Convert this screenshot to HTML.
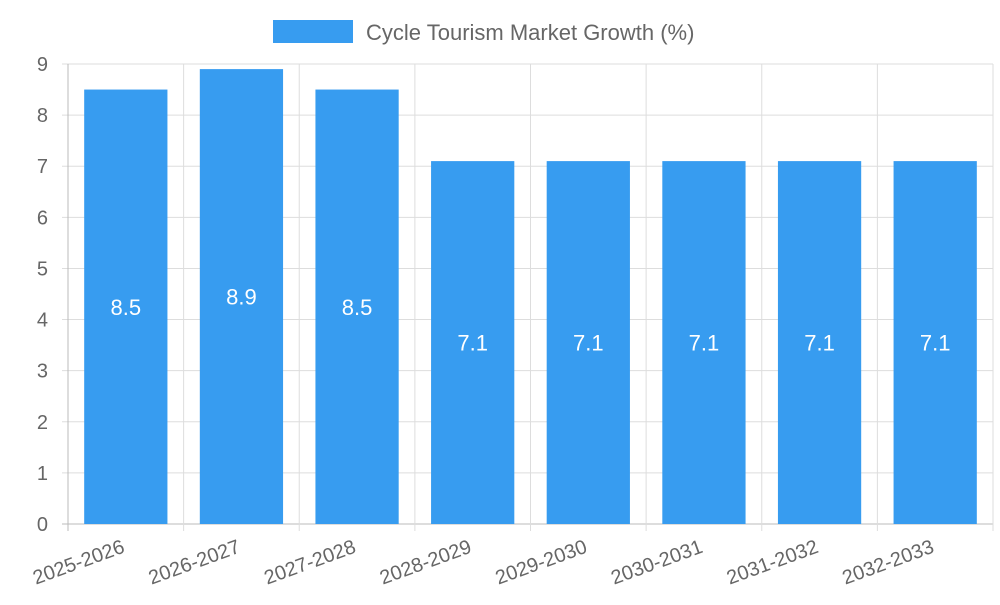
<!DOCTYPE html>
<html><head><meta charset="utf-8"><style>
body{margin:0;background:#fff;}
svg{font-family:"Liberation Sans",sans-serif;}
</style></head><body>
<svg width="1000" height="600">
<g id="legend">
<rect x="273" y="20" width="80" height="23" fill="#379cf0"></rect>
<text x="366" y="40" font-size="22" fill="#666">Cycle Tourism Market Growth (%)</text>
</g>
<g id="grid"></g><g id="bars"></g><g id="axes"></g>
</svg>
<script>
const categories=["2025-2026","2026-2027","2027-2028","2028-2029","2029-2030","2030-2031","2031-2032","2032-2033"];
const values=[8.5,8.9,8.5,7.1,7.1,7.1,7.1,7.1];
const yTicks=[0,1,2,3,4,5,6,7,8,9];
const NS="http://www.w3.org/2000/svg";
const L=68,R=993,T=64,B=524,yMax=9;
const band=(R-L)/categories.length;
const y=v=>B-(v/yMax)*(B-T);
const x=i=>L+i*band;
function mk(tag,attrs,parent){const e=document.createElementNS(NS,tag);for(const k in attrs)e.setAttribute(k,attrs[k]);parent.appendChild(e);return e;}
const grid=document.getElementById('grid'),bars=document.getElementById('bars'),axes=document.getElementById('axes');
yTicks.forEach(t=>{
 const g=mk('line',{x1:L-6,x2:R,y1:y(t),y2:y(t),stroke:t===0?'#bbb':'#ddd','stroke-width':1},grid);
 
 
 const tx=mk('text',{x:L-20,y:y(t)+7,'text-anchor':'end','font-size':20,fill:'#666'},axes);
 tx.textContent=t;
 
 
});
for(let i=0;i<=categories.length;i++){
 const g=mk('line',{x1:x(i),x2:x(i),y1:T,y2:B+7,stroke:i===0?'#bbb':'#ddd','stroke-width':1},grid);
 
 
}
categories.forEach((c,i)=>{
 const bw=band*0.72,bx=x(i)+(band-bw)/2;
 const r=mk('rect',{x:bx,y:y(values[i]),width:bw,height:B-y(values[i]),fill:'#379cf0'},bars);
 
 
 const v=mk('text',{x:bx+bw/2,y:(y(values[i])+B)/2+8,'text-anchor':'middle','font-size':22,fill:'#fff'},bars);
 v.textContent=values[i];
 
 
 const cx=x(i)+band/2;
 const lb=mk('text',{x:cx,y:B+28,'text-anchor':'end','font-size':20,fill:'#666',transform:`rotate(-20 ${cx} ${B+28})`},axes);
 lb.textContent=c;
 
 
});
</script>
</body></html>
